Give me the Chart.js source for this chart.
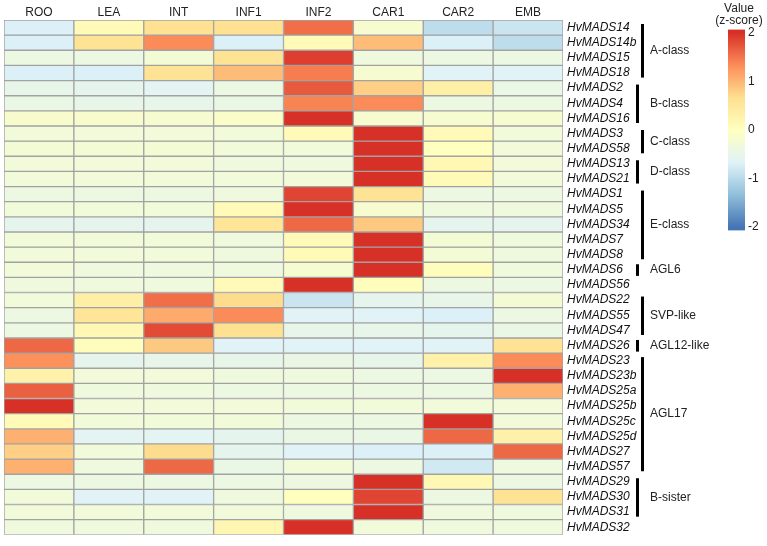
<!DOCTYPE html>
<html><head><meta charset="utf-8">
<script src="https://cdn.jsdelivr.net/npm/chart.js@4.4.1/dist/chart.umd.min.js"></script>
<style>html,body{margin:0;padding:0;background:#fff}#wrap{width:767px;height:546px;position:relative}</style>
</head><body><div id="wrap"><canvas id="c" width="767" height="546"></canvas></div>
<script>
const TISSUES = ['ROO','LEA','INT','INF1','INF2','CAR1','CAR2','EMB'];
const GENES = ['HvMADS14','HvMADS14b','HvMADS15','HvMADS18','HvMADS2','HvMADS4','HvMADS16','HvMADS3','HvMADS58','HvMADS13','HvMADS21','HvMADS1','HvMADS5','HvMADS34','HvMADS7','HvMADS8','HvMADS6','HvMADS56','HvMADS22','HvMADS55','HvMADS47','HvMADS26','HvMADS23','HvMADS23b','HvMADS25a','HvMADS25b','HvMADS25c','HvMADS25d','HvMADS27','HvMADS57','HvMADS29','HvMADS30','HvMADS31','HvMADS32'];
// z-scores per tissue, in GENES order
const ROO  = [-0.7,-0.7,-0.4,-0.7,-0.5,-0.45,-0.15,-0.3,-0.25,-0.3,-0.3,-0.4,-0.3,-0.55,-0.3,-0.3,-0.3,-0.35,-0.3,-0.4,-0.4,1.6,1.3,0.3,1.65,2.0,0.1,1.05,0.8,1.05,-0.4,-0.3,-0.3,-0.35];
const LEA  = [0.1,0.6,-0.4,-0.7,-0.55,-0.5,-0.15,-0.3,-0.25,-0.3,-0.3,-0.4,-0.3,-0.55,-0.3,-0.3,-0.35,-0.35,0.35,0.55,0.15,0.05,-0.55,-0.3,-0.35,-0.3,-0.3,-0.6,-0.3,-0.35,-0.4,-0.65,-0.3,-0.35];
const INT  = [0.65,1.35,-0.25,0.6,-0.6,-0.5,-0.2,-0.3,-0.25,-0.3,-0.3,-0.4,-0.3,-0.55,-0.3,-0.3,-0.35,-0.35,1.55,1.1,1.8,0.85,-0.5,-0.3,-0.35,-0.3,-0.3,-0.6,0.7,1.6,-0.4,-0.65,-0.3,-0.35];
const INF1 = [0.65,-0.7,0.6,0.95,-0.4,-0.45,-0.1,-0.3,-0.3,-0.35,-0.3,-0.35,0.1,0.55,-0.35,-0.35,-0.35,0.1,0.7,1.35,0.65,-0.65,-0.5,-0.35,-0.4,-0.3,-0.3,-0.55,-0.55,-0.45,-0.4,-0.35,-0.3,0.2];
const INF2 = [1.55,0.1,1.9,1.45,1.7,1.4,2.0,0.1,-0.3,-0.35,-0.3,1.85,2.0,1.6,0.1,0.1,-0.2,2.0,-0.85,-0.65,-0.5,-0.65,-0.45,-0.35,-0.4,-0.3,-0.4,-0.45,-0.65,-0.3,-0.4,0.0,-0.35,2.0];
const CAR1 = [-0.2,0.95,-0.35,-0.2,0.8,1.35,-0.2,2.0,2.0,2.0,2.0,0.6,-0.2,0.85,2.0,2.0,2.0,0.05,-0.55,-0.65,-0.5,-0.65,-0.5,-0.4,-0.4,-0.3,-0.4,-0.45,-0.7,-0.4,2.0,1.85,2.0,-0.3];
const CAR2 = [-0.95,-0.7,-0.4,-0.65,0.35,-0.4,-0.2,0.1,0.0,0.15,0.1,-0.4,-0.35,-0.55,-0.25,-0.25,0.05,-0.4,-0.5,-0.7,-0.55,-0.65,0.3,-0.4,-0.4,-0.3,2.0,1.6,-0.7,-0.8,0.15,-0.4,-0.35,-0.35];
const EMB  = [-0.85,-0.95,-0.4,-0.65,-0.45,-0.4,-0.2,-0.3,-0.3,-0.3,-0.3,-0.4,-0.35,-0.55,-0.35,-0.35,-0.35,-0.4,-0.25,-0.4,-0.45,0.6,1.35,2.0,1.05,-0.3,-0.3,0.3,1.6,-0.35,-0.4,0.6,-0.35,-0.35];
const COLUMNS = [ROO, LEA, INT, INF1, INF2, CAR1, CAR2, EMB];
const CLASS_LABELS = ['A-class','B-class','C-class','D-class','E-class','AGL6','SVP-like','AGL12-like','AGL17','B-sister'];
const CLASS_FIRST  = [0,4,7,9,11,16,18,21,22,30];
const CLASS_LAST   = [3,6,8,10,15,16,20,21,29,32];
const SCALE_TICKS  = [2,1,0,-1,-2];

// style
const BRACKET_X = [641,636,641,636,641,636,641,636,641,636];
const FONT = '"Liberation Sans", Arial, sans-serif';
const STOPS = [[-2,[69,117,180]],[-4/3,[145,191,219]],[-2/3,[224,243,248]],[0,[255,255,191]],[2/3,[254,224,144]],[4/3,[252,141,89]],[2,[215,48,39]]];
function zColor(v){
  v = Math.max(-2, Math.min(2, v));
  for (let i=0;i<STOPS.length-1;i++){
    const [a,ca]=STOPS[i],[b,cb]=STOPS[i+1];
    if (v<=b){const t=(v-a)/(b-a);const c=ca.map((x,k)=>Math.round(x+(cb[k]-x)*t));return `rgb(${c[0]},${c[1]},${c[2]})`;}
  }
  return 'rgb(215,48,39)';
}

const datasets = GENES.map((g,r)=>({
  label: g,
  data: TISSUES.map(()=>1),
  backgroundColor: COLUMNS.map(col=>zColor(col[r])),
  borderColor: '#a2a2a2',
  borderWidth: 1,
  borderSkipped: false,
  barPercentage: 1,
  categoryPercentage: 1
}));

const annotate = {
  id: 'annotate',
  afterDraw(chart){
    const ctx = chart.ctx, y = chart.scales.y;
    ctx.save();
    ctx.font = '12px ' + FONT;
    ctx.textBaseline = 'middle';
    CLASS_LABELS.forEach((lab,i)=>{
      const single = CLASS_FIRST[i] === CLASS_LAST[i];
      const t = y.getPixelForValue(CLASS_FIRST[i]) + (single ? 2 : 4);
      const b = y.getPixelForValue(CLASS_LAST[i]+1) - (single ? 1.5 : 3);
      ctx.fillStyle = '#000';
      ctx.fillRect(BRACKET_X[i], t, 3, b - t);
      ctx.fillStyle = '#222';
      ctx.textAlign = 'left';
      ctx.fillText(lab, 650, (t+b)/2);
    });
    // colour key
    const cx = 728, cw = 17, yOf = v => 130 - 48.5*v;
    const top = yOf(2.07), bot = yOf(-2.07);
    const grad = ctx.createLinearGradient(0, yOf(2), 0, yOf(-2));
    STOPS.forEach(([v,c])=>grad.addColorStop((2-v)/4, `rgb(${c[0]},${c[1]},${c[2]})`));
    ctx.fillStyle = grad;
    ctx.fillRect(cx, top, cw, bot-top);
    ctx.fillStyle = '#222';
    ctx.textAlign = 'left';
    SCALE_TICKS.forEach(v=>ctx.fillText(String(v), 748, yOf(v)));
    ctx.textAlign = 'center';
    ctx.fillText('Value', 739, 9);
    ctx.fillText('(z-score)', 739, 21);
    ctx.restore();
  }
};

new Chart(document.getElementById('c'), {
  type: 'bar',
  data: { labels: TISSUES, datasets },
  plugins: [annotate],
  options: {
    responsive: false,
    animation: false,
    devicePixelRatio: 1,
    layout: { padding: { left: 4, top: 5, right: 126, bottom: 3 } },
    plugins: { legend: { display: false }, tooltip: { enabled: false } },
    scales: {
      x: {
        position: 'top', stacked: true, offset: true,
        grid: { display: false, drawTicks: false }, border: { display: false },
        ticks: { color: '#222', font: { family: FONT, size: 12 }, padding: 0, maxRotation: 0 },
        afterFit(s){ s.height = 15; }
      },
      y: {
        type: 'linear', stacked: true, min: 0, max: GENES.length, reverse: true, display: false
      },
      y2: {
        type: 'category', labels: GENES, position: 'right', offset: true,
        grid: { display: false, drawTicks: false }, border: { display: false },
        ticks: { color: '#111', font: { family: FONT, size: 12, style: 'italic' }, padding: 4, autoSkip: false },
        afterFit(s){ s.width = 78; }
      }
    }
  }
});
</script></body></html>
